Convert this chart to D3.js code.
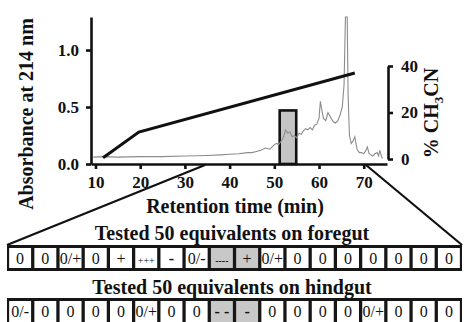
<!DOCTYPE html>
<html>
<head>
<meta charset="utf-8">
<script src="https://cdn.jsdelivr.net/npm/d3@7.9.0/dist/d3.min.js"></script>
<style>
  html, body { margin: 0; padding: 0; background: #fff; }
  svg { display: block; font-family: 'Liberation Serif', 'Times New Roman', serif; }
  .axis path, .axis line { stroke: #111; stroke-width: 2.6px; }
  .axis-title { font-weight: bold; font-size: 20px; fill: #111; }
  .cell-text { fill: #111; }
</style>
</head>
<body>
<svg id="chart" width="464" height="322"></svg>
<script>
const timeTicks = [10, 20, 30, 40, 50, 60, 70];
const absTicks = [0, 0.5, 1.0];
const pctTicks = [0, 20, 40];

// chromatogram, [minutes, absorbance at 214 nm]
const trace = [
  [9.5, 0.06], [12, 0.065], [15, 0.06], [20, 0.065], [25, 0.065], [30, 0.07],
  [35, 0.075], [38, 0.08], [40, 0.085], [42, 0.09], [44, 0.1], [45, 0.1],
  [46, 0.11], [47, 0.12], [48, 0.14], [49, 0.13], [50, 0.17], [50.5, 0.18],
  [51, 0.17], [51.5, 0.2], [52, 0.23], [52.5, 0.3], [53, 0.27], [53.5, 0.28],
  [54, 0.24], [54.5, 0.25], [55, 0.23], [55.5, 0.27], [56, 0.26], [56.5, 0.29],
  [57, 0.31], [57.5, 0.3], [58, 0.32], [58.5, 0.3], [59, 0.34], [59.5, 0.35],
  [60, 0.4], [60.3, 0.55], [60.6, 0.48], [61, 0.4], [61.5, 0.38], [62, 0.45],
  [62.3, 0.43], [62.7, 0.4], [63.2, 0.37], [63.7, 0.36], [64.2, 0.38], [64.7, 0.43],
  [65.2, 0.5], [65.6, 0.7], [65.9, 1.29], [66.3, 1.29], [66.5, 0.6], [66.8, 0.25],
  [67.2, 0.18], [67.6, 0.2], [68, 0.24], [68.5, 0.13], [69, 0.1], [69.5, 0.1],
  [70, 0.09], [70.5, 0.12], [70.8, 0.15], [71.2, 0.09], [71.6, 0.08], [72, 0.07],
  [72.5, 0.09], [73, 0.1], [73.3, 0.07], [73.6, 0.12], [74, 0.06], [74.2, 0.05]
];

// acetonitrile gradient, [minutes, % CH3CN]
const gradient = [[11.7, 0.5], [19.7, 11.6], [68, 37]];

// collected fraction (minutes) and its marker height (absorbance)
const fractionWindow = [51.2, 54.9];
const fractionHeight = 0.47;

// part of the run expanded into the tables below
const expandedWindow = [34.5, 70.5];

const foregut = ['0', '0', '0/+', '0', '+', '+++', '-', '0/-', '----', '+',
  '0/+', '0', '0', '0', '0', '0', '0', '0'];
const hindgut = ['0/-', '0', '0', '0', '0', '0/+', '0', '0', '- -', '-',
  '0', '0', '0', '0', '0/+', '0', '0', '0'];
const highlighted = [8, 9];
const smallMarks = ['+++', '----'];

const svg = d3.select('#chart');

const x = d3.scaleLinear().domain([9, 75.2]).range([91, 387]);
const y = d3.scaleLinear().domain([0, 1.29]).range([164, 17]);
const y2 = d3.scaleLinear().domain([0, 40]).range([159, 66]);

// fraction marker under the trace
svg.append('rect')
  .attr('x', x(fractionWindow[0]))
  .attr('y', y(fractionHeight))
  .attr('width', x(fractionWindow[1]) - x(fractionWindow[0]))
  .attr('height', y(0) - y(fractionHeight))
  .attr('fill', '#c4c4c4')
  .attr('stroke', '#111')
  .attr('stroke-width', 2.6);

svg.append('path')
  .datum(trace)
  .attr('fill', 'none')
  .attr('stroke', '#8c8c8c')
  .attr('stroke-width', 1.1)
  .attr('d', d3.line().x((d) => x(d[0])).y((d) => y(d[1])));

svg.append('path')
  .datum(gradient)
  .attr('fill', 'none')
  .attr('stroke', '#111')
  .attr('stroke-width', 3)
  .attr('d', d3.line().x((d) => x(d[0])).y((d) => y2(d[1])));

function styleAxis(g) {
  g.attr('font-family', "'Liberation Serif', serif").attr('font-size', 17);
  g.selectAll('text')
    .style('font-family', "'Liberation Serif', serif")
    .style('font-weight', 'bold')
    .style('font-size', '17px')
    .attr('fill', '#111');
}

// axes
svg.append('g')
  .attr('class', 'axis')
  .attr('transform', `translate(0,${y(0)})`)
  .call(d3.axisBottom(x).tickValues(timeTicks).tickSize(5).tickSizeOuter(0).tickPadding(7))
  .call(styleAxis);

svg.append('g')
  .attr('class', 'axis')
  .attr('transform', `translate(${x(9)},0)`)
  .call(d3.axisLeft(y).tickValues(absTicks).tickFormat(d3.format('.1f'))
    .tickSize(5).tickSizeOuter(0).tickPadding(7))
  .call(styleAxis);

svg.append('g')
  .attr('class', 'axis')
  .attr('transform', 'translate(388,0)')
  .call(d3.axisRight(y2).tickValues(pctTicks).tickSize(5).tickSizeOuter(0).tickPadding(8))
  .call(styleAxis);

svg.append('text')
  .attr('class', 'axis-title')
  .attr('transform', 'translate(33,114) rotate(-90)')
  .attr('text-anchor', 'middle')
  .text('Absorbance at 214 nm');

svg.append('text')
  .attr('class', 'axis-title')
  .attr('x', 235)
  .attr('y', 213)
  .attr('text-anchor', 'middle')
  .text('Retention time (min)');

const pctTitle = svg.append('text')
  .attr('class', 'axis-title')
  .attr('transform', 'translate(438,113) rotate(-90)')
  .attr('text-anchor', 'middle');
pctTitle.append('tspan').text('% CH');
pctTitle.append('tspan').attr('font-size', 13).attr('dy', 5).text('3');
pctTitle.append('tspan').attr('dy', -5).text('CN');

// tables of test results
const cellX = d3.scaleBand()
  .domain(d3.range(foregut.length))
  .range([7.5, 461.5])
  .paddingInner(0.13)
  .paddingOuter(0.065);

const tableLeft = 7;
const tableRight = 462;
const tableTop = 245;

svg.append('line')
  .attr('x1', x(expandedWindow[0])).attr('y1', y(0) + 1)
  .attr('x2', tableLeft).attr('y2', tableTop)
  .attr('stroke', '#111').attr('stroke-width', 2.2);
svg.append('line')
  .attr('x1', x(expandedWindow[1])).attr('y1', y(0) + 1)
  .attr('x2', tableRight).attr('y2', tableTop)
  .attr('stroke', '#111').attr('stroke-width', 2.2);

function drawRow(values, title, titleY, top, bottom) {
  svg.append('text')
    .attr('class', 'axis-title')
    .attr('x', 232)
    .attr('y', titleY)
    .attr('text-anchor', 'middle')
    .text(title);

  svg.append('rect')
    .attr('x', tableLeft).attr('y', top)
    .attr('width', tableRight - tableLeft).attr('height', bottom - top)
    .attr('fill', '#161616');

  const cells = svg.append('g')
    .selectAll('g')
    .data(values)
    .join('g')
    .attr('transform', (d, i) => `translate(${cellX(i)},${top + 3})`);

  cells.append('rect')
    .attr('width', cellX.bandwidth())
    .attr('height', bottom - top - 6)
    .attr('fill', (d, i) => (highlighted.includes(i) ? '#c8c8c8' : '#fff'));

  cells.append('text')
    .attr('class', 'cell-text')
    .attr('x', cellX.bandwidth() / 2)
    .attr('y', 15.5)
    .attr('text-anchor', 'middle')
    .attr('font-size', (d) => (smallMarks.includes(d) ? 10 : 16))
    .attr('font-weight', (d) => (/^[- ]+$/.test(d) ? 'bold' : 'normal'))
    .text((d) => d);
}

drawRow(foregut, 'Tested 50 equivalents on foregut', 240, tableTop, 271);
drawRow(hindgut, 'Tested 50 equivalents on hindgut', 294, 298, 328);
</script>
</body>
</html>
